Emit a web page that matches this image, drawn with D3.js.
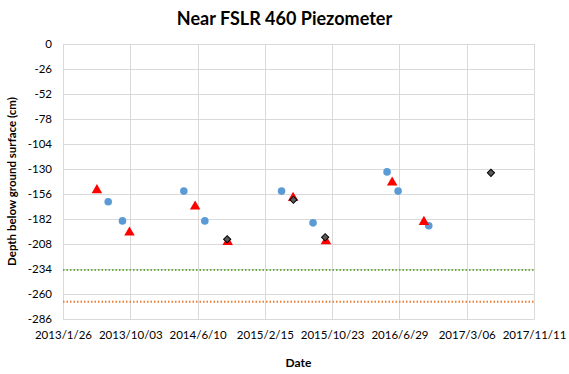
<!DOCTYPE html>
<html>
<head>
<meta charset="utf-8">
<script src="https://cdn.jsdelivr.net/npm/d3@7"></script>
<style>
body { margin: 0; background: #fff; }
svg { font-family: Lato, "Open Sans", sans-serif; }
</style>
</head>
<body>
<svg width="569" height="374"></svg>
<script>
// readings, depth in cm
var circleDates = ["2013-07-13", "2013-09-04", "2014-04-20", "2014-07-07", "2015-04-18", "2015-08-13", "2016-05-14", "2016-06-24", "2016-10-16"];
var circleVals = [-164, -184, -153, -184, -153, -186, -133, -153, -189];

var triDates = ["2013-06-01", "2013-09-30", "2014-06-01", "2014-09-30", "2015-05-31", "2015-09-30", "2016-06-02", "2016-09-28"];
var triVals = [-152, -196, -169, -206, -160, -205, -144, -185];

var diaDates = ["2014-09-28", "2015-06-01", "2015-09-27", "2017-06-04"];
var diaVals = [-203, -162, -201, -134];

var greenLevel = -235;
var orangeLevel = -268;

var yTicks = [0, -26, -52, -78, -104, -130, -156, -182, -208, -234, -260, -286];
var xTickLabels = ["2013/1/26", "2013/10/03", "2014/6/10", "2015/2/15", "2015/10/23", "2016/6/29", "2017/3/06", "2017/11/11"];

(function() {
	var width = 569, height = 374;
	var mLeft = 63, mRight = 534, mTop = 44, mBottom = 319;

	var parse = d3.utcParse("%Y-%m-%d");
	var t0 = parse("2013-01-26");
	var xTicks = xTickLabels.map(function(d, i) { return d3.utcDay.offset(t0, i * 250); });

	var x = d3.scaleUtc().domain([xTicks[0], xTicks[xTicks.length - 1]]).range([mLeft, mRight]);
	var y = d3.scaleLinear().domain([-286, 0]).range([mBottom, mTop]);

	var svg = d3.select("svg");

	function pts(dates, vals) {
		return dates.map(function(d, i) { return { date: parse(d), v: vals[i] }; });
	}

	// gridlines
	svg.append("g").selectAll("line").data(yTicks).enter().append("line")
		.attr("x1", mLeft).attr("x2", mRight)
		.attr("y1", function(d) { return y(d) + 0.5; }).attr("y2", function(d) { return y(d) + 0.5; })
		.attr("stroke", "#d9d9d9").attr("stroke-width", 1);
	svg.append("g").selectAll("line").data(xTicks).enter().append("line")
		.attr("x1", function(d) { return Math.round(x(d)) + 0.5; }).attr("x2", function(d) { return Math.round(x(d)) + 0.5; })
		.attr("y1", mTop).attr("y2", mBottom)
		.attr("stroke", "#d9d9d9").attr("stroke-width", 1);

	// axes
	svg.append("g")
		.attr("transform", "translate(" + mLeft + ",0)")
		.call(d3.axisLeft(y).tickValues(yTicks).tickSize(0).tickPadding(11).tickFormat(function(d) { return d; }));
	svg.append("g")
		.attr("transform", "translate(0," + mBottom + ")")
		.call(d3.axisBottom(x).tickValues(xTicks).tickSize(0).tickPadding(12).tickFormat(function(d, i) { return xTickLabels[i]; }));
	svg.selectAll(".domain").attr("stroke", "#d9d9d9");
	svg.selectAll(".tick text").attr("font-size", 11.5).attr("fill", "#000")
		.attr("font-family", "Lato, 'Open Sans', sans-serif");

	// reference levels
	svg.append("line").attr("x1", mLeft).attr("x2", mRight)
		.attr("y1", y(greenLevel)).attr("y2", y(greenLevel))
		.attr("stroke", "#70ad47").attr("stroke-width", 2).attr("stroke-dasharray", "1.5,2");
	svg.append("line").attr("x1", mLeft).attr("x2", mRight)
		.attr("y1", y(orangeLevel)).attr("y2", y(orangeLevel))
		.attr("stroke", "#ed7d31").attr("stroke-width", 2).attr("stroke-dasharray", "1.5,2");

	// points
	svg.append("g").selectAll("circle").data(pts(circleDates, circleVals)).enter().append("circle")
		.attr("cx", function(d) { return x(d.date); })
		.attr("cy", function(d) { return y(d.v); })
		.attr("r", 3.8)
		.attr("fill", "#5b9bd5");

	svg.append("g").selectAll("path").data(pts(triDates, triVals)).enter().append("path")
		.attr("d", d3.symbol().type(d3.symbolTriangle).size(48))
		.attr("transform", function(d) { return "translate(" + x(d.date) + "," + y(d.v) + ")"; })
		.attr("fill", "#ff0000");

	svg.append("g").selectAll("path").data(pts(diaDates, diaVals)).enter().append("path")
		.attr("d", d3.symbol().type(d3.symbolSquare).size(26))
		.attr("transform", function(d) { return "translate(" + x(d.date) + "," + y(d.v) + ") rotate(45)"; })
		.attr("fill", "#595959").attr("stroke", "#000").attr("stroke-width", 1);

	// titles
	svg.append("text")
		.attr("x", width / 2).attr("y", 25)
		.attr("text-anchor", "middle")
		.attr("font-size", 18).attr("font-weight", "bold")
		.text("Near FSLR 460 Piezometer");

	svg.append("text")
		.attr("x", (mLeft + mRight) / 2).attr("y", 367)
		.attr("text-anchor", "middle")
		.attr("font-size", 12).attr("font-weight", "bold")
		.text("Date");

	svg.append("text")
		.attr("transform", "rotate(-90)")
		.attr("x", -(mTop + mBottom) / 2).attr("y", 16)
		.attr("text-anchor", "middle")
		.attr("font-size", 11.5).attr("font-weight", "bold")
		.text("Depth below ground surface (cm)");
})();
</script>
</body>
</html>
